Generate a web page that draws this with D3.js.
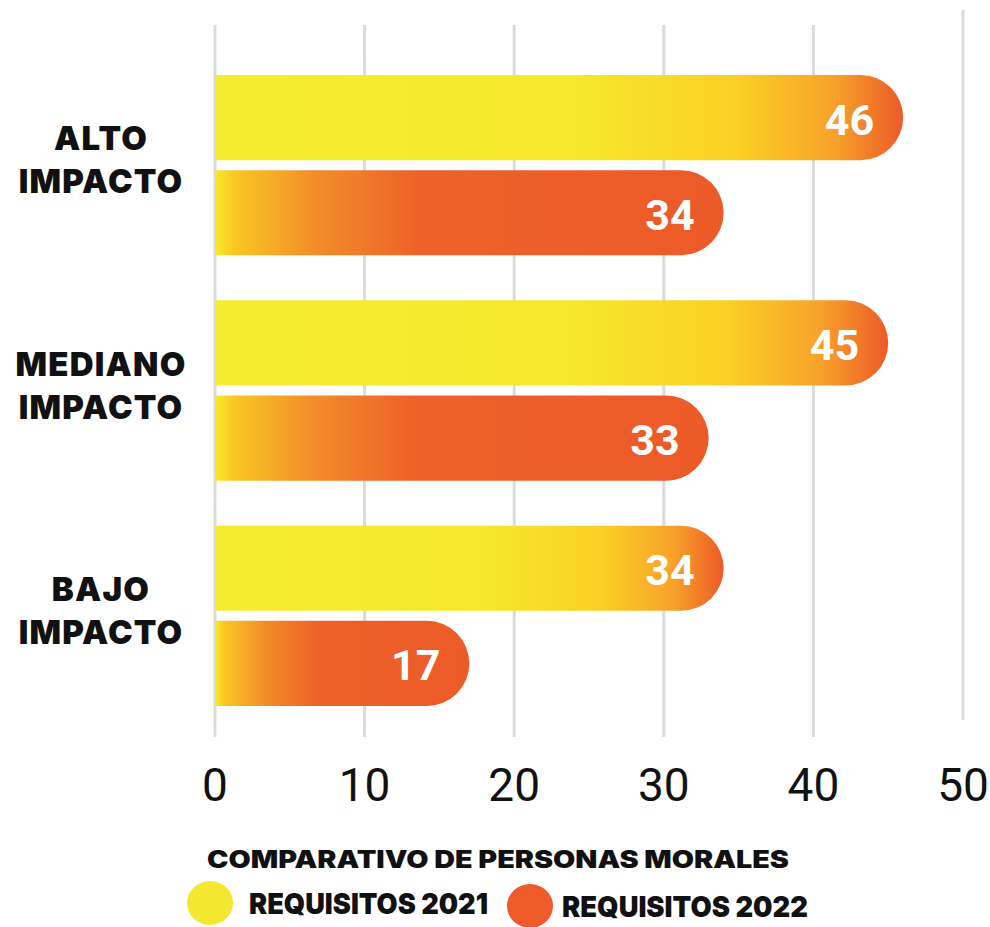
<!DOCTYPE html>
<html>
<head>
<meta charset="utf-8">
<script src="https://cdn.jsdelivr.net/npm/d3@7"></script>
<style>
  body { margin: 0; background: #fff; }
  svg { display: block; }
</style>
</head>
<body>
<svg id="chart" width="990" height="927"></svg>
<script>
// data
const categories = [["ALTO", "IMPACTO"], ["MEDIANO", "IMPACTO"], ["BAJO", "IMPACTO"]];
const series = ["REQUISITOS 2021", "REQUISITOS 2022"];
const values2021 = [46, 45, 34];
const values2022 = [34, 33, 17];
const ticks = [0, 10, 20, 30, 40, 50];
const legendTitle = "COMPARATIVO DE PERSONAS MORALES";

const svg = d3.select("#chart");
const heavy = "Inter, 'Noto Sans', sans-serif";

const x = d3.scaleLinear().domain([0, 50]).range([215, 963]);
const y = d3.scaleBand().domain(d3.range(categories.length)).range([75, 706]).paddingInner(0.2).paddingOuter(0);
const ySub = d3.scaleBand().domain([0, 1]).range([0, y.bandwidth()]).paddingInner(0.105);

// gradients
const defs = svg.append("defs");
const gradStops = [
  [[0, "#f5ec2f"], [0.52, "#f6e82c"], [0.76, "#fbd024"], [0.9, "#f7a22a"], [1, "#ec5a28"]],
  [[0, "#f8ea2a"], [0.04, "#f9c624"], [0.2, "#f28c2a"], [0.4, "#ee6228"], [1, "#ec5a28"]]
];
gradStops.forEach((stops, i) => {
  const gr = defs.append("linearGradient").attr("id", "g" + i)
    .attr("x1", 0).attr("x2", 1).attr("y1", 0).attr("y2", 0);
  gr.selectAll("stop").data(stops).enter().append("stop")
    .attr("offset", d => d[0]).attr("stop-color", d => d[1]);
});

// gridlines
svg.append("g").selectAll("line").data(ticks).enter().append("line")
  .attr("x1", d => x(d)).attr("x2", d => x(d))
  .attr("y1", d => d === 50 ? 10 : 25)
  .attr("y2", d => d === 50 ? 720 : 737)
  .attr("stroke", "#d9dbdc").attr("stroke-width", 3);

// tick labels
svg.append("g").selectAll("text").data(ticks).enter().append("text")
  .attr("x", d => x(d)).attr("y", 801)
  .attr("text-anchor", "middle")
  .attr("font-family", "Roboto, sans-serif")
  .attr("font-size", 46)
  .attr("fill", "#111")
  .text(d => d);

function barPath(x0, x1, y0, h) {
  const r = Math.min(h / 2, x1 - x0);
  return `M${x0},${y0}H${x1 - r}A${r},${r} 0 0 1 ${x1},${y0 + r}` +
    `V${y0 + h - r}A${r},${r} 0 0 1 ${x1 - r},${y0 + h}H${x0}Z`;
}

const rows = [];
categories.forEach((c, i) => {
  rows.push({ cat: i, s: 0, v: values2021[i] });
  rows.push({ cat: i, s: 1, v: values2022[i] });
});

const bars = svg.append("g");
bars.selectAll("path").data(rows).enter().append("path")
  .attr("d", d => barPath(x(0), x(d.v), y(d.cat) + ySub(d.s), ySub.bandwidth()))
  .attr("fill", d => `url(#g${d.s})`);

bars.selectAll("text").data(rows).enter().append("text")
  .attr("x", d => x(d.v) - 29)
  .attr("y", d => y(d.cat) + ySub(d.s) + ySub.bandwidth() / 2 + 17)
  .attr("text-anchor", "end")
  .attr("font-family", "Roboto, sans-serif")
  .attr("font-weight", 700)
  .attr("font-size", 43)
  .attr("fill", "#fff")
  .text(d => d.v);

// category labels
const catG = svg.append("g").selectAll("text").data(categories).enter().append("text")
  .attr("text-anchor", "middle")
  .attr("font-family", heavy)
  .attr("font-weight", 900)
  .attr("font-size", 33)
  .attr("letter-spacing", 1.2)
  .attr("fill", "#111");
catG.selectAll("tspan").data((d, i) => d.map(t => ({ t, i }))).enter().append("tspan")
  .attr("x", 101)
  .attr("y", (d, j) => y(d.i) + y.bandwidth() / 2 - 15 + j * 43)
  .text(d => d.t);

// legend
svg.append("text")
  .attr("x", 207).attr("y", 868)
  .attr("font-family", heavy)
  .attr("font-weight", 900)
  .attr("font-size", 24)
  .attr("textLength", 582)
  .attr("lengthAdjust", "spacingAndGlyphs")
  .attr("fill", "#111")
  .text(legendTitle);

const legendColors = ["#f4e72f", "#ee5a28"];
const legendPos = [{ cx: 210, cy: 903, tx: 249, tw: 239 }, { cx: 530, cy: 906, tx: 562, tw: 246 }];
const leg = svg.append("g").selectAll("g").data(series).enter().append("g");
leg.append("ellipse")
  .attr("cx", (d, i) => legendPos[i].cx).attr("cy", (d, i) => legendPos[i].cy)
  .attr("rx", 23).attr("ry", 22)
  .attr("fill", (d, i) => legendColors[i]);
leg.append("text")
  .attr("x", (d, i) => legendPos[i].tx).attr("y", (d, i) => legendPos[i].cy + 11)
  .attr("font-family", heavy)
  .attr("font-weight", 900)
  .attr("font-size", 29)
  .attr("textLength", (d, i) => legendPos[i].tw)
  .attr("lengthAdjust", "spacingAndGlyphs")
  .attr("fill", "#111")
  .text(d => d);
</script>
</body>
</html>
